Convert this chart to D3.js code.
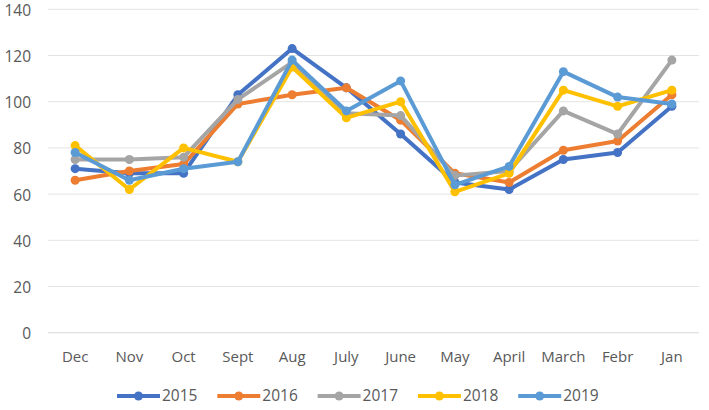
<!DOCTYPE html>
<html><head><meta charset="utf-8">
<script src="https://cdn.jsdelivr.net/npm/d3@7"></script>
<style>body{margin:0;background:#fff}</style>
</head><body>
<svg id="c" width="709" height="410"></svg>
<script>
const months = ["Dec","Nov","Oct","Sept","Aug","July","June","May","April","March","Febr","Jan"];
const years = ["2015","2016","2017","2018","2019"];
const colors = ["#4472C4","#ED7D31","#A5A5A5","#FFC000","#5B9BD5"];
const v2015 = [71,69,69,103,123,106,86,65,62,75,78,98];
const v2016 = [66,70,73,99,103,106,92,69,65,79,83,103];
const v2017 = [75,75,76,101,117,95,94,68,70,96,86,118];
const v2018 = [81,62,80,74,115,93,100,61,69,105,98,105];
const v2019 = [78,66,71,74,118,96,109,64,72,113,102,99];
const yTicks = [0,20,40,60,80,100,120,140];
const series = [v2015,v2016,v2017,v2018,v2019];

const svg = d3.select("#c");
const x = d3.scaleBand().domain(months).range([48,699]);
const y = d3.scaleLinear().domain([0,140]).range([332.7,9.3]);
const font = "'Open Sans', sans-serif";

const g = svg.append("g");
g.selectAll("line.grid").data(yTicks).join("line")
  .attr("x1",48).attr("x2",699)
  .attr("y1",d=>y(d)).attr("y2",d=>y(d))
  .attr("stroke",d=>d===0?"#d9d9d9":"#e3e3e3").attr("stroke-width",1);
g.selectAll("text.yt").data(yTicks).join("text")
  .attr("x",31).attr("y",d=>y(d)+1).attr("dy","0.35em")
  .attr("text-anchor","end").attr("font-family",font).attr("font-size",15.5)
  .attr("fill","#595959").text(d=>d);
g.selectAll("text.xt").data(months).join("text")
  .attr("x",d=>x(d)+x.bandwidth()/2).attr("y",362)
  .attr("text-anchor","middle").attr("font-family",font).attr("font-size",15)
  .attr("fill","#595959").text(d=>d);

const line = d3.line().x((d,i)=>x(months[i])+x.bandwidth()/2).y(d=>y(d));
series.forEach((s,k)=>{
  const sg = svg.append("g");
  sg.append("path").datum(s).attr("d",line).attr("fill","none")
    .attr("stroke",colors[k]).attr("stroke-width",4).attr("stroke-linejoin","round");
  sg.selectAll("circle").data(s).join("circle")
    .attr("cx",(d,i)=>x(months[i])+x.bandwidth()/2).attr("cy",d=>y(d))
    .attr("r",4.5).attr("fill",colors[k]);
});

const lg = svg.append("g");
years.forEach((yr,k)=>{
  const x0 = 117 + k*100.3;
  lg.append("line").attr("x1",x0).attr("x2",x0+43).attr("y1",396).attr("y2",396)
    .attr("stroke",colors[k]).attr("stroke-width",4);
  lg.append("circle").attr("cx",x0+21.5).attr("cy",396).attr("r",4.5).attr("fill",colors[k]);
  lg.append("text").attr("x",x0+45).attr("y",396).attr("dy","0.35em")
    .attr("font-family",font).attr("font-size",15.5).attr("fill","#595959").text(yr);
});
</script>
</body></html>
